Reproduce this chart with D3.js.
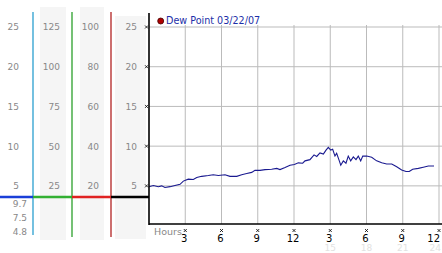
<!DOCTYPE html>
<html>
<head>
<meta charset="utf-8">
<script src="https://cdn.jsdelivr.net/npm/d3@7"></script>
<style>
  body { margin: 0; background: #fff; }
  svg { display: block; font-family: "DejaVu Sans", Verdana, sans-serif; }
</style>
</head>
<body>
<svg width="442" height="253"></svg>
<script>
// dew point readings, hour of day vs degrees
var hours = [0.0, 0.36, 0.77, 1.05, 1.32, 1.74, 2.15, 2.57, 2.84, 3.25, 3.67, 3.95, 4.36, 4.91, 5.32, 5.74,
  6.29, 6.70, 7.26, 7.67, 8.09, 8.50, 8.77, 9.19, 9.60, 10.15, 10.57, 10.84, 11.26, 11.67, 12.03, 12.36,
  12.72, 12.91, 13.32, 13.66, 13.88, 14.15, 14.43, 14.65, 14.84, 15.04, 15.20, 15.39, 15.53, 15.75, 15.87,
  16.08, 16.30, 16.49, 16.69, 16.91, 17.13, 17.32, 17.52, 17.69, 18.02, 18.43, 18.84, 19.26, 19.67, 20.09,
  20.50, 20.91, 21.27, 21.54, 21.82, 22.29, 22.70, 23.12, 23.59];
var dewPoint = [4.9, 5.05, 4.9, 5.0, 4.8, 4.9, 5.05, 5.2, 5.6, 5.85, 5.8, 6.05, 6.2, 6.3, 6.4, 6.3,
  6.4, 6.2, 6.2, 6.4, 6.55, 6.7, 6.95, 6.95, 7.05, 7.1, 7.2, 7.05, 7.3, 7.6, 7.7, 7.9,
  7.85, 8.15, 8.3, 8.9, 8.7, 9.15, 9.0, 9.5, 9.85, 9.5, 9.6, 8.75, 9.1, 8.15, 7.6,
  8.15, 7.85, 8.75, 8.15, 8.65, 8.3, 8.75, 8.15, 8.75, 8.75, 8.6, 8.15, 7.9, 7.75, 7.75,
  7.4, 7.0, 6.8, 6.8, 7.1, 7.2, 7.35, 7.5, 7.5];

// axis ticks
var yTicks = [25, 20, 15, 10, 5];
var col2Ticks = [125, 100, 75, 50, 25];
var col3Ticks = [100, 80, 60, 40, 20];
var extraLabels = ["9.7", "7.5", "4.8"];
var hourTicks = [3, 6, 9, 12, 15, 18, 21, 24];
var hourLabels = ["3", "6", "9", "12", "3", "6", "9", "12"];
var fadedTicks = [15, 18, 21, 24];
var markLevel = 3.6;
var title = "Dew Point 03/22/07";

var svg = d3.select("svg");

var x = d3.scaleLinear().domain([0, 24]).range([149, 439]);
var y = d3.scaleLinear().domain([0.2, 25]).range([224, 27]);
var y2 = d3.scaleLinear().domain([1, 125]).range([224, 27]);
var y3 = d3.scaleLinear().domain([0.8, 100]).range([224, 27]);

//////////// LEFT SCALE COLUMNS ////////////
svg.append("rect").attr("x", 40).attr("y", 7).attr("width", 26).attr("height", 233).attr("fill", "#f5f5f5");
svg.append("rect").attr("x", 80).attr("y", 7).attr("width", 24).attr("height", 233).attr("fill", "#f5f5f5");
svg.append("rect").attr("x", 115).attr("y", 16).attr("width", 31).attr("height", 223).attr("fill", "#f5f5f5");

function labelAxis(scale, ticks, xpos) {
  var g = svg.append("g")
    .attr("transform", "translate(" + xpos + ",0)")
    .call(d3.axisLeft(scale).tickValues(ticks).tickSize(0).tickPadding(0));
  g.select(".domain").remove();
  g.selectAll("text").attr("fill", "#888").attr("font-size", 9)
    .attr("font-family", "DejaVu Sans, Verdana, sans-serif");
}
labelAxis(y, yTicks, 19);
labelAxis(y2, col2Ticks, 60);
labelAxis(y3, col3Ticks, 99);
labelAxis(y, yTicks, 137);

var ex = d3.scalePoint().domain(extraLabels).range([204, 232]);
svg.selectAll(".extra").data(extraLabels).enter().append("text")
  .attr("x", 27).attr("y", function(d) { return ex(d); })
  .attr("dy", "0.32em").attr("text-anchor", "end")
  .attr("fill", "#888").attr("font-size", 9).text(function(d) { return d; });

// coloured scale separators
var seps = [{x: 33, y2: 235, c: "#2a9fd0"}, {x: 72, y2: 237, c: "#2ca02c"}, {x: 111, y2: 237, c: "#b22222"}];
svg.selectAll(".sep").data(seps).enter().append("line")
  .attr("x1", function(d) { return d.x; }).attr("x2", function(d) { return d.x; })
  .attr("y1", 12).attr("y2", function(d) { return d.y2; })
  .attr("stroke", function(d) { return d.c; }).attr("stroke-width", 1.3);

var bands = [{a: 0, b: 33, c: "#1a3fd8"}, {a: 33, b: 72, c: "#33b033"}, {a: 72, b: 111, c: "#e02222"}, {a: 111, b: 149, c: "#000"}];
svg.selectAll(".band").data(bands).enter().append("line")
  .attr("x1", function(d) { return d.a; }).attr("x2", function(d) { return d.b; })
  .attr("y1", y(markLevel)).attr("y2", y(markLevel))
  .attr("stroke", function(d) { return d.c; }).attr("stroke-width", 2.5);

//////////// PLOT ////////////
svg.selectAll(".hgrid").data(yTicks).enter().append("line")
  .attr("x1", 149).attr("x2", 442)
  .attr("y1", function(d) { return y(d); }).attr("y2", function(d) { return y(d); })
  .attr("stroke", "#bbb");
svg.selectAll(".vgrid").data(hourTicks).enter().append("line")
  .attr("x1", function(d) { return x(d); }).attr("x2", function(d) { return x(d); })
  .attr("y1", 25).attr("y2", 224)
  .attr("stroke", "#bbb");

svg.append("path")
  .datum(d3.zip(hours, dewPoint))
  .attr("fill", "none").attr("stroke", "#1a1a90").attr("stroke-width", 1.1)
  .attr("d", d3.line().x(function(d) { return x(d[0]); }).y(function(d) { return y(d[1]); }));

// axes
svg.append("line").attr("x1", 149).attr("x2", 149).attr("y1", 13).attr("y2", 225)
  .attr("stroke", "#000").attr("stroke-width", 1.6);
svg.append("line").attr("x1", 149).attr("x2", 442).attr("y1", 224).attr("y2", 224)
  .attr("stroke", "#000").attr("stroke-width", 1.6);

function cross(cx, cy) {
  svg.append("path")
    .attr("d", "M" + (cx - 1.5) + "," + (cy - 1.5) + "l3,3M" + (cx + 1.5) + "," + (cy - 1.5) + "l-3,3")
    .attr("stroke", "#000").attr("stroke-width", 0.8);
}
yTicks.forEach(function(t) { cross(146.5, y(t)); });
hourTicks.forEach(function(t) { cross(x(t), 230.5); });

// last labels sit flush against the right edge
var last = hourTicks.length - 1;
svg.selectAll(".hlab").data(hourTicks).enter().append("text")
  .attr("x", function(d, i) { return i === last ? 440 : x(d) - 1; }).attr("y", 242)
  .attr("text-anchor", function(d, i) { return i === last ? "end" : "middle"; })
  .attr("font-size", 10).attr("fill", "#000")
  .text(function(d, i) { return hourLabels[i]; });

svg.selectAll(".faded").data(fadedTicks).enter().append("text")
  .attr("x", function(d, i) { return i === fadedTicks.length - 1 ? 441 : x(d); }).attr("y", 251)
  .attr("text-anchor", function(d, i) { return i === fadedTicks.length - 1 ? "end" : "middle"; })
  .attr("font-size", 9).attr("fill", "#e2e2e2")
  .text(function(d) { return d; });

svg.append("text").attr("x", 154).attr("y", 235)
  .attr("font-size", 9.5).attr("fill", "#888").text("Hours");

// legend
svg.append("circle").attr("cx", 160.7).attr("cy", 21).attr("r", 3)
  .attr("fill", "#b00000").attr("stroke", "#400").attr("stroke-width", 0.8);
svg.append("text").attr("x", 166).attr("y", 21).attr("dy", "0.35em")
  .attr("font-size", 9.6).attr("fill", "#1c2fa8").text(title);
</script>
</body>
</html>
